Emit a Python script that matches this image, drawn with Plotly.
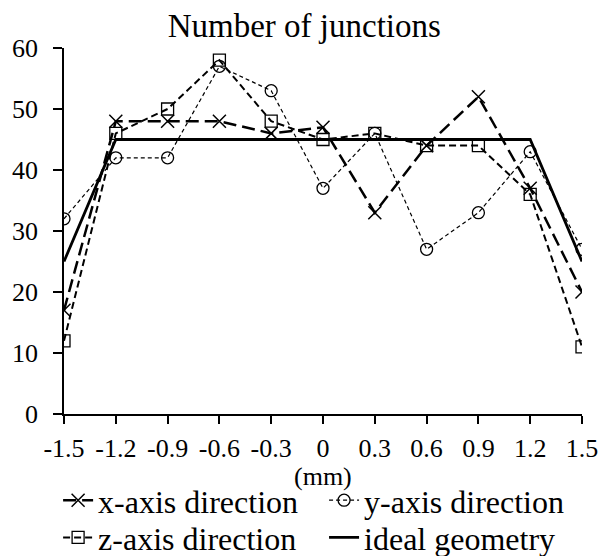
import plotly.graph_objects as go

positions = [-1.5, -1.2, -0.9, -0.6, -0.3, 0, 0.3, 0.6, 0.9, 1.2, 1.5]
tick_labels = ["-1.5", "-1.2", "-0.9", "-0.6", "-0.3", "0", "0.3", "0.6", "0.9", "1.2", "1.5"]

x_dir = [17, 48, 48, 48, 46, 47, 33, 44, 52, 37, 20]
y_dir = [32, 42, 42, 57, 53, 37, 46, 27, 33, 43, 27]
z_dir = [12, 46, 50, 58, 48, 45, 46, 44, 44, 36, 11]
ideal = [25, 45, 45, 45, 45, 45, 45, 45, 45, 45, 25]

FONT = "Times New Roman, Liberation Serif, serif"

fig = go.Figure()
fig.add_trace(go.Scatter(
    x=positions, y=x_dir, name="x-axis direction", mode="lines+markers", legend="legend",
    line=dict(color="black", width=2.5, dash="13px,6px"),
    marker=dict(symbol="x-thin", size=13, line=dict(color="black", width=1.5)),
))
fig.add_trace(go.Scatter(
    x=positions, y=y_dir, name="y-axis direction", mode="lines+markers", legend="legend2",
    line=dict(color="black", width=1.2, dash="4px,3px"),
    marker=dict(symbol="circle-open", size=12, color="black", line=dict(width=1.3)),
))
fig.add_trace(go.Scatter(
    x=positions, y=z_dir, name="z-axis direction", mode="lines+markers", legend="legend3",
    line=dict(color="black", width=2, dash="7px,4px"),
    marker=dict(symbol="square-open", size=12, color="black", line=dict(width=1.3)),
))
fig.add_trace(go.Scatter(
    x=positions, y=ideal, name="ideal geometry", mode="lines", legend="legend4",
    line=dict(color="black", width=2.8),
))

# one single-entry legend per slot, laid out as a 2x2 grid under the axis
legend_style = dict(
    orientation="h", xref="container", xanchor="left", yref="container",
    yanchor="middle", font=dict(family=FONT, size=32, color="black"),
    itemwidth=30, bgcolor="rgba(0,0,0,0)",
)
col_left, col_right = 0.097, 0.541
row_top, row_bottom = 0.1, 0.033

fig.update_layout(
    width=599, height=556,
    margin=dict(l=64, r=17, t=48, b=142, autoexpand=False),
    paper_bgcolor="white", plot_bgcolor="white",
    font=dict(family=FONT, size=26, color="black"),
    title=dict(text="Number of junctions", xref="container", x=0.508, xanchor="center",
               yref="container", y=0.955, yanchor="middle",
               font=dict(family=FONT, size=33, color="black")),
    xaxis=dict(
        range=[-1.5, 1.5], tickvals=positions, ticktext=tick_labels,
        showgrid=False, zeroline=False, showline=True, linecolor="black", linewidth=1.5,
        ticks="outside", ticklen=8, tickcolor="black", tickwidth=1.5,
        ticklabelstandoff=2, tickfont=dict(family=FONT, size=26),
    ),
    yaxis=dict(
        range=[0, 60], dtick=10,
        showgrid=False, zeroline=False, showline=True, linecolor="black", linewidth=1.5,
        ticks="outside", ticklen=9, tickcolor="black", tickwidth=1.5,
        ticklabelstandoff=10, tickfont=dict(family=FONT, size=26),
    ),
    legend=dict(legend_style, x=col_left, y=row_top),
    legend2=dict(legend_style, x=col_right, y=row_top),
    legend3=dict(legend_style, x=col_left, y=row_bottom),
    legend4=dict(legend_style, x=col_right, y=row_bottom),
    annotations=[dict(
        text="(mm)", xref="paper", x=0.5, xanchor="center",
        yref="paper", y=-0.17, yanchor="middle", showarrow=False,
        font=dict(family=FONT, size=26, color="black"),
    )],
    showlegend=True,
)

fig.write_html("out.html")
